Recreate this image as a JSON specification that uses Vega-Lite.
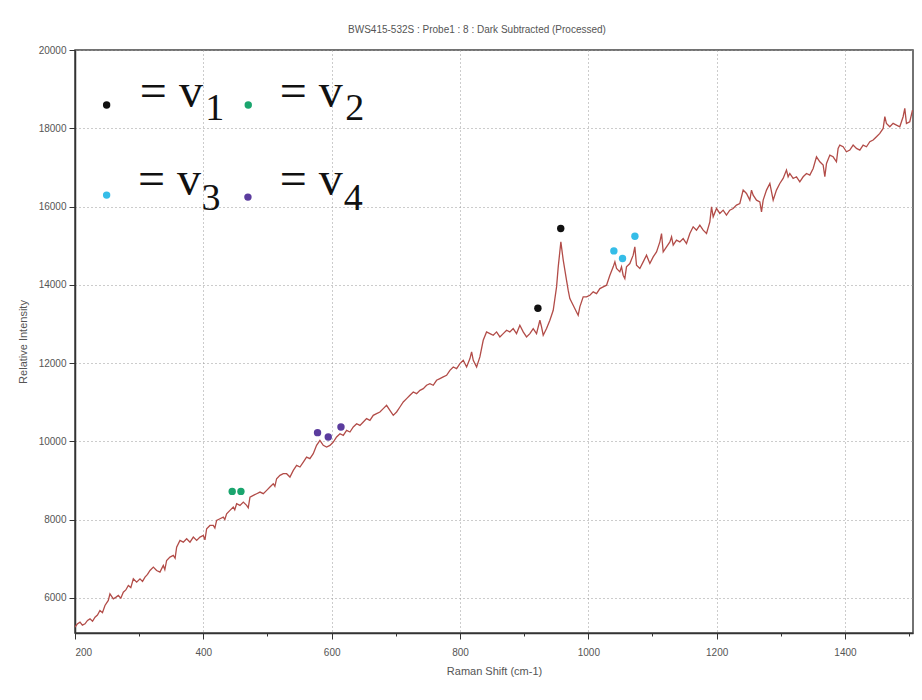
{
  "$schema": "https://vega.github.io/schema/vega-lite/v6.json",
  "width": 838,
  "height": 583,
  "autosize": {"type": "none"},
  "padding": {"left": 75, "top": 50, "right": 9, "bottom": 67},
  "background": "white",
  "title": {
    "text": "BWS415-532S : Probe1 : 8 : Dark Subtracted (Processed)",
    "fontSize": 10, "font": "Liberation Sans", "fontWeight": "normal", "color": "#555",
    "anchor": "middle", "dx": -17, "offset": 10, "frame": "group"
  },
  "config": {
    "view": {"stroke": "#444", "strokeWidth": 1.5},
    "axis": {"labelFont": "Liberation Sans", "titleFont": "Liberation Sans", "labelColor": "#555", "titleColor": "#555", "titleFontWeight": "normal", "domainColor": "#333", "domainWidth": 1.5, "tickColor": "#333", "labelOverlap": false}
  },
  "datasets": {
    "spectrum": [
      {"x": 200, "y": 5249}, {"x": 203.5, "y": 5330}, {"x": 207.8, "y": 5377}, {"x": 211.5, "y": 5300}, {"x": 215.6, "y": 5334}, {"x": 219.5, "y": 5420}, {"x": 223.4, "y": 5462}, {"x": 227.3, "y": 5400}, {"x": 231.2, "y": 5505}, {"x": 235, "y": 5560}, {"x": 238.9, "y": 5675}, {"x": 242.8, "y": 5620}, {"x": 246.7, "y": 5803}, {"x": 251.9, "y": 5931}, {"x": 254.5, "y": 6101}, {"x": 259.7, "y": 5974}, {"x": 263.5, "y": 6010}, {"x": 267.5, "y": 6059}, {"x": 271.4, "y": 5990}, {"x": 275.3, "y": 6144}, {"x": 279.2, "y": 6200}, {"x": 283.1, "y": 6315}, {"x": 287, "y": 6260}, {"x": 290.9, "y": 6485}, {"x": 296.1, "y": 6400}, {"x": 301.3, "y": 6485}, {"x": 305.2, "y": 6420}, {"x": 309.1, "y": 6528}, {"x": 313, "y": 6600}, {"x": 316.9, "y": 6698}, {"x": 322.1, "y": 6784}, {"x": 327.2, "y": 6698}, {"x": 332.4, "y": 6656}, {"x": 337.6, "y": 6826}, {"x": 340, "y": 6720}, {"x": 342.8, "y": 6954}, {"x": 348, "y": 7039}, {"x": 353.2, "y": 7082}, {"x": 356, "y": 7010}, {"x": 358.4, "y": 7295}, {"x": 363.6, "y": 7466}, {"x": 368.8, "y": 7423}, {"x": 374, "y": 7508}, {"x": 379.2, "y": 7423}, {"x": 384.4, "y": 7551}, {"x": 389.6, "y": 7466}, {"x": 394.8, "y": 7551}, {"x": 400, "y": 7594}, {"x": 402.5, "y": 7480}, {"x": 405.2, "y": 7764}, {"x": 410.3, "y": 7849}, {"x": 415.5, "y": 7849}, {"x": 418, "y": 7780}, {"x": 420.7, "y": 7977}, {"x": 425.9, "y": 8020}, {"x": 431.1, "y": 8063}, {"x": 433.5, "y": 8000}, {"x": 436.3, "y": 8148}, {"x": 441.5, "y": 8233}, {"x": 446.7, "y": 8318}, {"x": 449, "y": 8250}, {"x": 451.9, "y": 8404}, {"x": 457.1, "y": 8361}, {"x": 462.3, "y": 8446}, {"x": 467.5, "y": 8361}, {"x": 470, "y": 8300}, {"x": 472.7, "y": 8574}, {"x": 477.9, "y": 8617}, {"x": 483.1, "y": 8660}, {"x": 488.3, "y": 8702}, {"x": 493.5, "y": 8660}, {"x": 498.7, "y": 8745}, {"x": 503.8, "y": 8830}, {"x": 509, "y": 8915}, {"x": 511.5, "y": 8850}, {"x": 514.2, "y": 9043}, {"x": 519.4, "y": 9128}, {"x": 524.6, "y": 9171},
      {"x": 529.8, "y": 9171}, {"x": 535, "y": 9086}, {"x": 540.2, "y": 9256}, {"x": 545.4, "y": 9384}, {"x": 550.6, "y": 9342}, {"x": 555.8, "y": 9469}, {"x": 560.9, "y": 9597}, {"x": 566.1, "y": 9555}, {"x": 571.3, "y": 9683}, {"x": 576.5, "y": 9896}, {"x": 581.7, "y": 10024}, {"x": 586.9, "y": 9896}, {"x": 592.1, "y": 9853}, {"x": 597.3, "y": 9896}, {"x": 602.5, "y": 9981}, {"x": 607.7, "y": 10109}, {"x": 612.9, "y": 10194}, {"x": 618.1, "y": 10152}, {"x": 623.3, "y": 10280}, {"x": 628.5, "y": 10237}, {"x": 633.7, "y": 10365}, {"x": 638.9, "y": 10450}, {"x": 644.1, "y": 10407}, {"x": 649.3, "y": 10493}, {"x": 654.4, "y": 10578}, {"x": 659.6, "y": 10535}, {"x": 664.8, "y": 10663}, {"x": 670, "y": 10706}, {"x": 675.2, "y": 10749}, {"x": 680.4, "y": 10834}, {"x": 685.6, "y": 10919}, {"x": 690.8, "y": 10791}, {"x": 696, "y": 10663}, {"x": 701.2, "y": 10749}, {"x": 706.4, "y": 10876}, {"x": 711.6, "y": 11004}, {"x": 716.8, "y": 11090}, {"x": 722, "y": 11175}, {"x": 727.2, "y": 11260}, {"x": 732.4, "y": 11217}, {"x": 737.6, "y": 11303}, {"x": 742.8, "y": 11345}, {"x": 747.9, "y": 11431}, {"x": 753.1, "y": 11473}, {"x": 758.3, "y": 11431}, {"x": 763.5, "y": 11559}, {"x": 768.7, "y": 11601}, {"x": 773.9, "y": 11644}, {"x": 779.1, "y": 11686}, {"x": 784.3, "y": 11814}, {"x": 789.5, "y": 11900}, {"x": 794.7, "y": 11857}, {"x": 799.9, "y": 11985}, {"x": 805.1, "y": 12070}, {"x": 810.3, "y": 11900}, {"x": 815.5, "y": 12113}, {"x": 818.1, "y": 12283}, {"x": 820.7, "y": 12070}, {"x": 825.9, "y": 11900}, {"x": 831, "y": 12155},
      {"x": 836.2, "y": 12582}, {"x": 841.4, "y": 12795}, {"x": 846.6, "y": 12752}, {"x": 851.8, "y": 12710}, {"x": 857, "y": 12795}, {"x": 862.2, "y": 12667}, {"x": 867.4, "y": 12752}, {"x": 872.6, "y": 12837}, {"x": 877.7, "y": 12795}, {"x": 882.9, "y": 12880}, {"x": 888.1, "y": 12752}, {"x": 893.3, "y": 12965}, {"x": 898.5, "y": 12795}, {"x": 903.7, "y": 12667}, {"x": 908.9, "y": 12752}, {"x": 914.1, "y": 12880}, {"x": 919.3, "y": 12752}, {"x": 924.5, "y": 13093}, {"x": 927.1, "y": 12923}, {"x": 929.7, "y": 12710}, {"x": 934.9, "y": 12880}, {"x": 940.1, "y": 13093}, {"x": 945.3, "y": 13349}, {"x": 950.5, "y": 13946}, {"x": 953.1, "y": 14458}, {"x": 957.2, "y": 15097}, {"x": 960.9, "y": 14628}, {"x": 966, "y": 14116}, {"x": 968.6, "y": 13861}, {"x": 971.2, "y": 13648}, {"x": 976.4, "y": 13477}, {"x": 981.6, "y": 13306}, {"x": 984.2, "y": 13221}, {"x": 986.8, "y": 13434}, {"x": 992, "y": 13690}, {"x": 997.2, "y": 13690}, {"x": 1002.4, "y": 13733}, {"x": 1007.6, "y": 13818}, {"x": 1012.8, "y": 13775}, {"x": 1018, "y": 13903}, {"x": 1023.2, "y": 13946}, {"x": 1028.4, "y": 13989}, {"x": 1033.6, "y": 14244}, {"x": 1038.8, "y": 14458}, {"x": 1041.4, "y": 14585}, {"x": 1044, "y": 14415}, {"x": 1049.1, "y": 14330}, {"x": 1051.7, "y": 14458}, {"x": 1054.3, "y": 14244}, {"x": 1056.9, "y": 14159}, {"x": 1059.5, "y": 14458}, {"x": 1064.7, "y": 14543}, {"x": 1069.9, "y": 14756}, {"x": 1072.5, "y": 14969}, {"x": 1075.1, "y": 14500}, {"x": 1080.3, "y": 14415}, {"x": 1085.5, "y": 14585}, {"x": 1090.7, "y": 14756}, {"x": 1095.9, "y": 14543}, {"x": 1101.1, "y": 14713}, {"x": 1106.3, "y": 14841}, {"x": 1111.5, "y": 15097}, {"x": 1114.1, "y": 15310}, {"x": 1116.7, "y": 14841}, {"x": 1121.9, "y": 14969}, {"x": 1127.1, "y": 15097}, {"x": 1129.7, "y": 15225}, {"x": 1132.3, "y": 15012}, {"x": 1137.4, "y": 15140}, {"x": 1142.6, "y": 15097}, {"x": 1147.8, "y": 15182}, {"x": 1153, "y": 15054}, {"x": 1158.2, "y": 15310}, {"x": 1163.4, "y": 15481}, {"x": 1168.6, "y": 15396}, {"x": 1173.8, "y": 15523},
      {"x": 1179, "y": 15395}, {"x": 1184.2, "y": 15310}, {"x": 1189.4, "y": 15609}, {"x": 1192, "y": 15992}, {"x": 1194.6, "y": 15737}, {"x": 1199.8, "y": 15950}, {"x": 1204.9, "y": 15822}, {"x": 1210.1, "y": 15907}, {"x": 1215.3, "y": 15779}, {"x": 1220.5, "y": 15907}, {"x": 1225.7, "y": 15950}, {"x": 1230.9, "y": 16035}, {"x": 1236.1, "y": 16078}, {"x": 1241.3, "y": 16419}, {"x": 1246.5, "y": 16334}, {"x": 1251.7, "y": 16163}, {"x": 1254.3, "y": 16419}, {"x": 1256.9, "y": 16291}, {"x": 1262.1, "y": 16163}, {"x": 1267.3, "y": 16120}, {"x": 1269.9, "y": 15864}, {"x": 1272.5, "y": 16163}, {"x": 1277.7, "y": 16419}, {"x": 1282.9, "y": 16589}, {"x": 1288.1, "y": 16163}, {"x": 1293.2, "y": 16419}, {"x": 1298.4, "y": 16589}, {"x": 1303.6, "y": 16717}, {"x": 1308.8, "y": 16930}, {"x": 1311.4, "y": 16760}, {"x": 1314, "y": 16845}, {"x": 1319.2, "y": 16717}, {"x": 1324.4, "y": 16760}, {"x": 1329.6, "y": 16632}, {"x": 1334.8, "y": 16760}, {"x": 1340, "y": 16845}, {"x": 1345.2, "y": 16803}, {"x": 1350.4, "y": 16973}, {"x": 1355.6, "y": 17271}, {"x": 1360.8, "y": 17143}, {"x": 1366, "y": 17058}, {"x": 1368.6, "y": 16760}, {"x": 1371.2, "y": 17101}, {"x": 1376.4, "y": 17314}, {"x": 1381.5, "y": 17271}, {"x": 1386.7, "y": 17143}, {"x": 1389.3, "y": 17485}, {"x": 1391.9, "y": 17570}, {"x": 1397.1, "y": 17527}, {"x": 1402.3, "y": 17399}, {"x": 1407.5, "y": 17442}, {"x": 1412.7, "y": 17570}, {"x": 1417.9, "y": 17485}, {"x": 1423.1, "y": 17442}, {"x": 1428.3, "y": 17570}, {"x": 1433.5, "y": 17527}, {"x": 1438.7, "y": 17655}, {"x": 1443.9, "y": 17698}, {"x": 1449.1, "y": 17783}, {"x": 1454.3, "y": 17868}, {"x": 1459.5, "y": 17996}, {"x": 1462.1, "y": 18295}, {"x": 1464.6, "y": 18124}, {"x": 1469.8, "y": 18039}, {"x": 1475, "y": 18124}, {"x": 1480.2, "y": 18081}, {"x": 1485.4, "y": 18039}, {"x": 1490.6, "y": 18295}, {"x": 1493.2, "y": 18508}, {"x": 1495.8, "y": 18124}, {"x": 1501, "y": 18167}, {"x": 1505.2, "y": 18465}
    ],
    "markers": [
      {"x": 921.4, "y": 13400, "v": "v1"}, {"x": 957, "y": 15439, "v": "v1"},
      {"x": 445, "y": 8719, "v": "v2"}, {"x": 458.6, "y": 8719, "v": "v2"},
      {"x": 1039.8, "y": 14866, "v": "v3"}, {"x": 1053.3, "y": 14671, "v": "v3"}, {"x": 1072.6, "y": 15242, "v": "v3"},
      {"x": 578, "y": 10221, "v": "v4"}, {"x": 594.7, "y": 10109, "v": "v4"}, {"x": 614.5, "y": 10364, "v": "v4"},
      {"x": 249.3, "y": 18593, "v": "v1"}, {"x": 470, "y": 18593, "v": "v2"},
      {"x": 249.3, "y": 16291, "v": "v3"}, {"x": 469.5, "y": 16240, "v": "v4"}
    ],
    "labels": [
      {"part": "main", "x": 301, "y": 18542, "t": "= v"}, {"part": "sub", "x": 403, "y": 18209, "t": "1"},
      {"part": "main", "x": 519, "y": 18542, "t": "= v"}, {"part": "sub", "x": 621, "y": 18209, "t": "2"},
      {"part": "main", "x": 298, "y": 16291, "t": "= v"}, {"part": "sub", "x": 397, "y": 15907, "t": "3"},
      {"part": "main", "x": 519, "y": 16291, "t": "= v"}, {"part": "sub", "x": 619, "y": 15907, "t": "4"}
    ]
  },
  "layer": [
    {
      "data": {"name": "spectrum"},
      "mark": {"type": "line", "color": "#b24c48", "strokeWidth": 1.3, "clip": true},
      "encoding": {
        "x": {
          "field": "x", "type": "quantitative",
          "scale": {"domain": [200, 1506], "nice": false, "zero": false},
          "axis": {
            "title": "Raman Shift (cm-1)", "titleFontSize": 11, "titlePadding": 8,
            "values": [200,250,300,350,400,450,500,550,600,650,700,750,800,850,900,950,1000,1050,1100,1150,1200,1250,1300,1350,1400,1450,1500],
            "labelExpr": "datum.value % 200 === 0 ? datum.label : ''",
            "format": "d", "labelFontSize": 10, "labelPadding": 8,
            "tickSize": {"condition": {"test": "datum.value % 200 === 0", "value": 6}, "value": 3},
            "grid": true, "gridColor": "#999", "gridDash": [1, 3], "gridWidth": 1,
            "gridOpacity": {"condition": {"test": "datum.value % 200 === 0 && datum.value > 200", "value": 1}, "value": 0}
          }
        },
        "y": {
          "field": "y", "type": "quantitative",
          "scale": {"domain": [5100, 20000], "nice": false, "zero": false},
          "axis": {
            "title": "Relative Intensity", "titleFontSize": 11, "titlePadding": 10,
            "values": [6000, 8000, 10000, 12000, 14000, 16000, 18000, 20000],
            "format": "d", "labelFontSize": 10, "labelPadding": 3, "tickSize": 6,
            "grid": true, "gridColor": "#999", "gridDash": [1, 3], "gridWidth": 1
          }
        }
      }
    },
    {
      "data": {"name": "markers"},
      "mark": {"type": "circle", "size": 55, "opacity": 1},
      "encoding": {
        "x": {"field": "x", "type": "quantitative"},
        "y": {"field": "y", "type": "quantitative"},
        "color": {"field": "v", "type": "nominal", "scale": {"domain": ["v1", "v2", "v3", "v4"], "range": ["#111111", "#1aa56e", "#35bde8", "#5b3c9e"]}, "legend": null}
      }
    },
    {
      "data": {"name": "labels"},
      "transform": [{"filter": "datum.part === 'main'"}],
      "mark": {"type": "text", "font": "Liberation Serif", "fontSize": 48, "align": "left", "baseline": "alphabetic", "color": "#111"},
      "encoding": {
        "x": {"field": "x", "type": "quantitative"},
        "y": {"field": "y", "type": "quantitative"},
        "text": {"field": "t"}
      }
    },
    {
      "data": {"name": "labels"},
      "transform": [{"filter": "datum.part === 'sub'"}],
      "mark": {"type": "text", "font": "Liberation Serif", "fontSize": 38, "align": "left", "baseline": "alphabetic", "color": "#111"},
      "encoding": {
        "x": {"field": "x", "type": "quantitative"},
        "y": {"field": "y", "type": "quantitative"},
        "text": {"field": "t"}
      }
    }
  ]
}
